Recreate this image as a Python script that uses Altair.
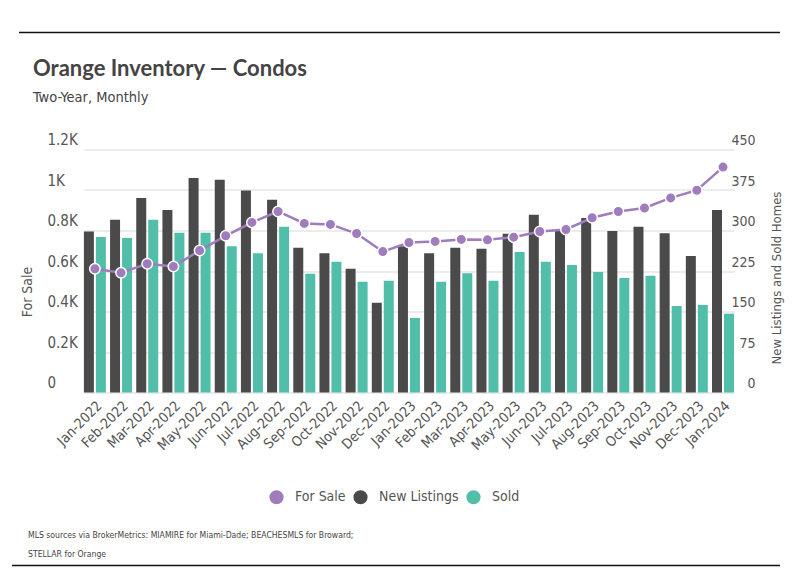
import altair as alt
import pandas as pd

months = ["Jan-2022", "Feb-2022", "Mar-2022", "Apr-2022", "May-2022", "Jun-2022",
          "Jul-2022", "Aug-2022", "Sep-2022", "Oct-2022", "Nov-2022", "Dec-2022",
          "Jan-2023", "Feb-2023", "Mar-2023", "Apr-2023", "May-2023", "Jun-2023",
          "Jul-2023", "Aug-2023", "Sep-2023", "Oct-2023", "Nov-2023", "Dec-2023",
          "Jan-2024"]
for_sale = [611, 591, 636, 622, 701, 774, 840, 894, 835, 830, 785, 696, 741,
            746, 756, 754, 767, 795, 805, 863, 894, 911, 961, 999, 1113]
new_listings = [298, 320, 360, 338, 397, 394, 374, 357, 268, 258, 229, 166, 271,
                258, 268, 266, 294, 329, 299, 323, 299, 307, 295, 253, 338]
sold = [288, 286, 320, 296, 296, 271, 258, 307, 220, 242, 205, 207, 138,
        205, 221, 207, 260, 242, 236, 223, 212, 216, 160, 162, 146]

series_names = ["For Sale", "New Listings", "Sold"]
series_colors = ["#a07cbd", "#4a4a4a", "#50bea9"]
left_ticks = [0, 200, 400, 600, 800, 1000, 1200]
right_ticks = [0, 75, 150, 225, 300, 375, 450]

title_text = "Orange Inventory \u2014 Condos"
subtitle_text = "Two-Year, Monthly"
footer_1 = "MLS sources via BrokerMetrics: MIAMIRE for Miami-Dade; BEACHESMLS for Broward;"
footer_2 = "STELLAR for Orange"

bar_df = pd.DataFrame(
    [{"month": m, "series": "New Listings", "value": v} for m, v in zip(months, new_listings)]
    + [{"month": m, "series": "Sold", "value": v} for m, v in zip(months, sold)]
)
line_df = pd.DataFrame({"month": months, "value": for_sale, "series": "For Sale"})

NARROW = "DejaVu Sans Condensed, sans-serif"
W, H = 708, 243

x_enc = alt.X("month:N", sort=months, title=None,
              scale=alt.Scale(paddingInner=0.16, paddingOuter=0, range=[36.9, 687]),
              axis=alt.Axis(labelAngle=-45, labelFontSize=14, labelColor="#555555",
                            labelFont=NARROW, domain=False, ticks=False,
                            labelPadding=6, labelOverlap=False))

color_enc = alt.Color("series:N",
                      scale=alt.Scale(domain=series_names, range=series_colors),
                      legend=alt.Legend(title=None, orient="none", legendX=222, legendY=340,
                                        direction="horizontal", symbolType="circle",
                                        symbolSize=200, labelFontSize=14,
                                        labelColor="#555555", labelFont=NARROW,
                                        labelOffset=11, columnPadding=7, padding=0,
                                        symbolStrokeWidth=0))

bars = alt.Chart(bar_df).mark_bar().encode(
    x=x_enc,
    xOffset=alt.XOffset("series:N", sort=["New Listings", "Sold"],
                        scale=alt.Scale(paddingInner=0.167, paddingOuter=0)),
    y=alt.Y("value:Q", scale=alt.Scale(domain=[0, 450], nice=False),
            axis=alt.Axis(orient="right", values=right_ticks, grid=False, domain=False,
                          ticks=False, tickSize=0, labelPadding=0, labelAlign="right",
                          labelBaseline="alphabetic", labelOffset=-5, labelFontSize=14,
                          labelColor="#555555", labelFont=NARROW,
                          title="New Listings and Sold Homes", titleFontSize=13,
                          titleFontWeight="normal", titleColor="#555555", titleFont=NARROW,
                          titleAngle=270, titleX=21, titleY=128, titleAlign="center",
                          titleBaseline="middle")),
    color=color_enc,
)

left_axis = alt.Axis(orient="left", values=left_ticks, grid=True, gridColor="#d9d9d9",
                     domain=False, ticks=False, tickSize=0, labelPadding=0,
                     labelAlign="left", labelBaseline="alphabetic", labelOffset=-5,
                     labelFontSize=15, labelColor="#555555", labelFont=NARROW,
                     labelExpr="datum.value == 0 ? '0' : format(datum.value / 1000, '.1~f') + 'K'",
                     title="For Sale", titleFontSize=14, titleFontWeight="normal",
                     titleColor="#555555", titleFont=NARROW, titleAngle=270,
                     titleX=-20, titleY=142, titleAlign="center", titleBaseline="middle")

y_left = alt.Y("value:Q", scale=alt.Scale(domain=[0, 1200], nice=False), axis=left_axis)

line = alt.Chart(line_df).mark_line(color="#a07cbd", strokeWidth=2.5).encode(
    x=alt.X("month:N", sort=months), y=y_left)
points = alt.Chart(line_df).mark_point(filled=True, size=110, stroke="white",
                                       strokeWidth=1.5, opacity=1).encode(
    x=alt.X("month:N", sort=months), y=y_left, color=color_enc)

line_layer = alt.layer(line, points)

one = alt.Data(values=[{}])
title_mark = alt.Chart(one).mark_text(align="left", baseline="alphabetic", font="Lato",
                                      fontWeight="bold", fontSize=22, color="#444444").encode(
    x=alt.value(-14), y=alt.value(-73.5), text=alt.value(title_text))
subtitle_mark = alt.Chart(one).mark_text(align="left", baseline="alphabetic", font=NARROW,
                                         fontSize=14.5, color="#444444").encode(
    x=alt.value(-14), y=alt.value(-47.5), text=alt.value(subtitle_text))
foot1 = alt.Chart(one).mark_text(align="left", baseline="alphabetic", font=NARROW,
                                 fontSize=8.6, color="#444444").encode(
    x=alt.value(-19), y=alt.value(388), text=alt.value(footer_1))
foot2 = alt.Chart(one).mark_text(align="left", baseline="alphabetic", font=NARROW,
                                 fontSize=8.6, color="#444444").encode(
    x=alt.value(-19), y=alt.value(407), text=alt.value(footer_2))
top_rule = alt.Chart(one).mark_rule(color="#111111", strokeWidth=1.5).encode(
    x=alt.value(-28), x2=alt.value(733), y=alt.value(-117))
bottom_rule = alt.Chart(one).mark_rule(color="#111111", strokeWidth=1.5).encode(
    x=alt.value(-35), x2=alt.value(733), y=alt.value(416))

chart = alt.layer(
    bars, line_layer, title_mark, subtitle_mark, foot1, foot2, top_rule, bottom_rule
).resolve_scale(y="independent").properties(
    width=W, height=H,
    padding={"left": 39, "top": 141.5, "right": 35, "bottom": 180},
    autosize=alt.AutoSizeParams(type="none"),
).configure_view(stroke=None)

chart.save("out.html", embed_options={"renderer": "svg", "actions": False})
